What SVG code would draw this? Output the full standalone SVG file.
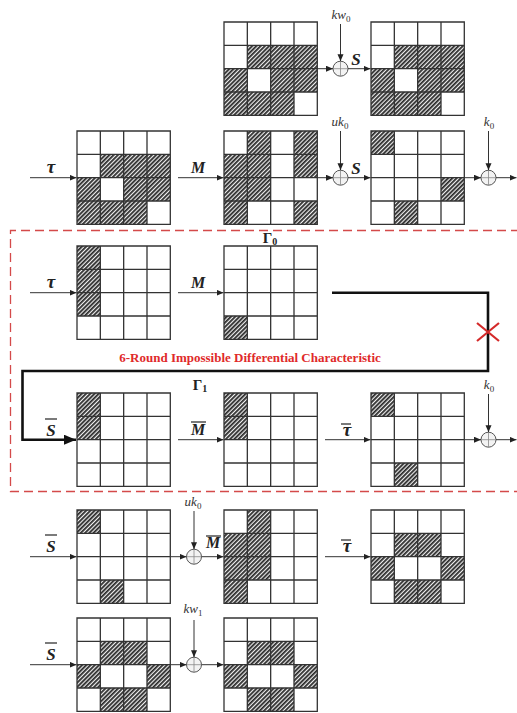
<svg xmlns="http://www.w3.org/2000/svg" xmlns:xlink="http://www.w3.org/1999/xlink" width="517" height="713" viewBox="0 0 517 713">
<style>
.gl{fill:none;stroke:#333;stroke-width:1.3}
.h{fill:url(#hatch)}
.ln{fill:none;stroke:#333;stroke-width:1}
.thick{fill:none;stroke:#111;stroke-width:2.6}
.xor{fill:#f3f3f3;stroke:#555;stroke-width:1}
.xc{stroke:#888;stroke-width:0.8}
.op{font-family:"Liberation Serif",serif;font-weight:bold;font-style:italic;fill:#222;text-anchor:middle}
.key{font-family:"Liberation Serif",serif;font-style:italic;font-size:13px;fill:#333;text-anchor:middle}
.sub{font-style:normal;font-size:9px}
.gam{font-family:"Liberation Serif",serif;font-weight:bold;font-size:15px;fill:#222;text-anchor:middle}
.bar{stroke:#222;stroke-width:1.2}
.red{font-family:"Liberation Serif",serif;font-weight:bold;font-size:13px;fill:#e02a2a;text-anchor:middle}
</style>
<defs>
<pattern id="hatch" patternUnits="userSpaceOnUse" width="3" height="3" patternTransform="rotate(45)">
<rect width="3" height="3" fill="#f0f0f0"/>
<line x1="0.9" y1="0" x2="0.9" y2="3" stroke="#2a2a2a" stroke-width="1.8"/>
</pattern>
<g id="grid"><path class="gl" d="M0,0H93.3V93.3H0Z M23.33,0V93.3 M46.67,0V93.3 M70,0V93.3 M0,23.33H93.3 M0,46.67H93.3 M0,70H93.3"/></g>
<marker id="ar" markerWidth="8" markerHeight="8" refX="7" refY="3" orient="auto" markerUnits="userSpaceOnUse"><path d="M0,0 L7,3 L0,6 Z" fill="#222"/></marker>
<marker id="arb" markerWidth="14" markerHeight="12" refX="12" refY="5" orient="auto" markerUnits="userSpaceOnUse"><path d="M0,0 L12,5 L0,10 Z" fill="#111"/></marker>
<g id="xorsym"><circle class="xor" r="7.5"/><path class="xc" d="M-7.5,0H7.5M0,-7.5V7.5"/></g>
</defs>
<rect width="517" height="713" fill="#fff"/>

<!-- red dashed region -->
<path d="M520,230.5H10.5V491.5H520" fill="none" stroke="#d44a4a" stroke-width="1.3" stroke-dasharray="9,5"/>

<!-- Row 1 -->
<g id="r1a" transform="translate(224,22)">
<rect class="h" x="23.33" y="23.33" width="23.33" height="23.33"/><rect class="h" x="46.67" y="23.33" width="23.33" height="23.33"/><rect class="h" x="70" y="23.33" width="23.33" height="23.33"/>
<rect class="h" x="0" y="46.67" width="23.33" height="23.33"/><rect class="h" x="46.67" y="46.67" width="23.33" height="23.33"/><rect class="h" x="70" y="46.67" width="23.33" height="23.33"/>
<rect class="h" x="0" y="70" width="23.33" height="23.33"/><rect class="h" x="23.33" y="70" width="23.33" height="23.33"/><rect class="h" x="46.67" y="70" width="23.33" height="23.33"/>
<use xlink:href="#grid"/></g>
<g id="r1b" transform="translate(371,22)">
<rect class="h" x="23.33" y="23.33" width="23.33" height="23.33"/><rect class="h" x="46.67" y="23.33" width="23.33" height="23.33"/><rect class="h" x="70" y="23.33" width="23.33" height="23.33"/>
<rect class="h" x="0" y="46.67" width="23.33" height="23.33"/><rect class="h" x="46.67" y="46.67" width="23.33" height="23.33"/><rect class="h" x="70" y="46.67" width="23.33" height="23.33"/>
<rect class="h" x="0" y="70" width="23.33" height="23.33"/><rect class="h" x="23.33" y="70" width="23.33" height="23.33"/><rect class="h" x="46.67" y="70" width="23.33" height="23.33"/>
<use xlink:href="#grid"/></g>

<!-- Row 2 -->
<g id="r2a" transform="translate(77,131)">
<rect class="h" x="23.33" y="23.33" width="23.33" height="23.33"/><rect class="h" x="46.67" y="23.33" width="23.33" height="23.33"/><rect class="h" x="70" y="23.33" width="23.33" height="23.33"/>
<rect class="h" x="0" y="46.67" width="23.33" height="23.33"/><rect class="h" x="46.67" y="46.67" width="23.33" height="23.33"/><rect class="h" x="70" y="46.67" width="23.33" height="23.33"/>
<rect class="h" x="0" y="70" width="23.33" height="23.33"/><rect class="h" x="23.33" y="70" width="23.33" height="23.33"/><rect class="h" x="46.67" y="70" width="23.33" height="23.33"/>
<use xlink:href="#grid"/></g>
<g id="r2b" transform="translate(224,131)">
<rect class="h" x="23.33" y="0" width="23.33" height="23.33"/><rect class="h" x="70" y="0" width="23.33" height="23.33"/>
<rect class="h" x="0" y="23.33" width="23.33" height="23.33"/><rect class="h" x="23.33" y="23.33" width="23.33" height="23.33"/><rect class="h" x="70" y="23.33" width="23.33" height="23.33"/>
<rect class="h" x="0" y="46.67" width="23.33" height="23.33"/><rect class="h" x="23.33" y="46.67" width="23.33" height="23.33"/>
<rect class="h" x="0" y="70" width="23.33" height="23.33"/><rect class="h" x="70" y="70" width="23.33" height="23.33"/>
<use xlink:href="#grid"/></g>
<g id="r2c" transform="translate(371,131)">
<rect class="h" x="0" y="0" width="23.33" height="23.33"/><rect class="h" x="70" y="46.67" width="23.33" height="23.33"/><rect class="h" x="23.33" y="70" width="23.33" height="23.33"/>
<use xlink:href="#grid"/></g>

<!-- Row 3 -->
<g id="r3a" transform="translate(77,246)">
<rect class="h" x="0" y="0" width="23.33" height="23.33"/><rect class="h" x="0" y="23.33" width="23.33" height="23.33"/><rect class="h" x="0" y="46.67" width="23.33" height="23.33"/>
<use xlink:href="#grid"/></g>
<g id="r3b" transform="translate(224,246)">
<rect class="h" x="0" y="70" width="23.33" height="23.33"/>
<use xlink:href="#grid"/></g>

<!-- Row 4 -->
<g id="r4a" transform="translate(77,393)">
<rect class="h" x="0" y="0" width="23.33" height="23.33"/><rect class="h" x="0" y="23.33" width="23.33" height="23.33"/>
<use xlink:href="#grid"/></g>
<g id="r4b" transform="translate(224,393)">
<rect class="h" x="0" y="0" width="23.33" height="23.33"/><rect class="h" x="0" y="23.33" width="23.33" height="23.33"/>
<use xlink:href="#grid"/></g>
<g id="r4c" transform="translate(371,393)">
<rect class="h" x="0" y="0" width="23.33" height="23.33"/><rect class="h" x="23.33" y="70" width="23.33" height="23.33"/>
<use xlink:href="#grid"/></g>

<!-- Row 5 -->
<g id="r5a" transform="translate(77,510)">
<rect class="h" x="0" y="0" width="23.33" height="23.33"/><rect class="h" x="23.33" y="70" width="23.33" height="23.33"/>
<use xlink:href="#grid"/></g>
<g id="r5b" transform="translate(224,510)">
<rect class="h" x="23.33" y="0" width="23.33" height="23.33"/>
<rect class="h" x="0" y="23.33" width="23.33" height="23.33"/><rect class="h" x="23.33" y="23.33" width="23.33" height="23.33"/>
<rect class="h" x="0" y="46.67" width="23.33" height="23.33"/><rect class="h" x="23.33" y="46.67" width="23.33" height="23.33"/>
<rect class="h" x="0" y="70" width="23.33" height="23.33"/>
<use xlink:href="#grid"/></g>
<g id="r5c" transform="translate(371,510)">
<rect class="h" x="23.33" y="23.33" width="23.33" height="23.33"/><rect class="h" x="46.67" y="23.33" width="23.33" height="23.33"/>
<rect class="h" x="0" y="46.67" width="23.33" height="23.33"/><rect class="h" x="70" y="46.67" width="23.33" height="23.33"/>
<rect class="h" x="23.33" y="70" width="23.33" height="23.33"/><rect class="h" x="46.67" y="70" width="23.33" height="23.33"/>
<use xlink:href="#grid"/></g>

<!-- Row 6 -->
<g id="r6a" transform="translate(77,618)">
<rect class="h" x="23.33" y="23.33" width="23.33" height="23.33"/><rect class="h" x="46.67" y="23.33" width="23.33" height="23.33"/>
<rect class="h" x="0" y="46.67" width="23.33" height="23.33"/><rect class="h" x="70" y="46.67" width="23.33" height="23.33"/>
<rect class="h" x="23.33" y="70" width="23.33" height="23.33"/><rect class="h" x="46.67" y="70" width="23.33" height="23.33"/>
<use xlink:href="#grid"/></g>
<g id="r6b" transform="translate(224,618)">
<rect class="h" x="23.33" y="23.33" width="23.33" height="23.33"/><rect class="h" x="46.67" y="23.33" width="23.33" height="23.33"/>
<rect class="h" x="0" y="46.67" width="23.33" height="23.33"/><rect class="h" x="70" y="46.67" width="23.33" height="23.33"/>
<rect class="h" x="23.33" y="70" width="23.33" height="23.33"/><rect class="h" x="46.67" y="70" width="23.33" height="23.33"/>
<use xlink:href="#grid"/></g>

<!-- XOR nodes -->
<g id="xor1"><use xlink:href="#xorsym" x="340.5" y="68.7"/></g>
<g id="xor2"><use xlink:href="#xorsym" x="340.5" y="177.7"/></g>
<g id="xor3"><use xlink:href="#xorsym" x="488.5" y="177.7"/></g>
<g id="xor4"><use xlink:href="#xorsym" x="488.5" y="439.7"/></g>
<g id="xor5"><use xlink:href="#xorsym" x="194" y="556.7"/></g>
<g id="xor6"><use xlink:href="#xorsym" x="194" y="664.7"/></g>

<!-- connectors -->
<g id="connectors">
<line class="ln" x1="317.3" y1="68.7" x2="333" y2="68.7" marker-end="url(#ar)"/>
<line class="ln" x1="348" y1="68.7" x2="370.5" y2="68.7" marker-end="url(#ar)"/>
<line class="ln" x1="340.5" y1="24" x2="340.5" y2="61.2" marker-end="url(#ar)"/>

<line class="ln" x1="30" y1="177.7" x2="76.5" y2="177.7" marker-end="url(#ar)"/>
<line class="ln" x1="178" y1="177.7" x2="223.5" y2="177.7" marker-end="url(#ar)"/>
<line class="ln" x1="317.3" y1="177.7" x2="333" y2="177.7" marker-end="url(#ar)"/>
<line class="ln" x1="348" y1="177.7" x2="370.5" y2="177.7" marker-end="url(#ar)"/>
<line class="ln" x1="340.5" y1="131" x2="340.5" y2="170.2" marker-end="url(#ar)"/>
<line class="ln" x1="464.3" y1="177.7" x2="481" y2="177.7" marker-end="url(#ar)"/>
<line class="ln" x1="488.5" y1="131" x2="488.5" y2="170.2" marker-end="url(#ar)"/>
<line class="ln" x1="496" y1="177.7" x2="516.5" y2="177.7" marker-end="url(#ar)"/>

<line class="ln" x1="30" y1="292.7" x2="76.5" y2="292.7" marker-end="url(#ar)"/>
<line class="ln" x1="178" y1="292.7" x2="223.5" y2="292.7" marker-end="url(#ar)"/>
<path class="thick" d="M332,292.7H488V371H22.5V439.7H76" marker-end="url(#arb)"/>

<line class="ln" x1="178" y1="439.7" x2="223.5" y2="439.7" marker-end="url(#ar)"/>
<line class="ln" x1="325" y1="439.7" x2="370.5" y2="439.7" marker-end="url(#ar)"/>
<line class="ln" x1="464.3" y1="439.7" x2="481" y2="439.7" marker-end="url(#ar)"/>
<line class="ln" x1="488.5" y1="394" x2="488.5" y2="432.2" marker-end="url(#ar)"/>
<line class="ln" x1="496" y1="439.7" x2="516.5" y2="439.7" marker-end="url(#ar)"/>

<line class="ln" x1="30" y1="556.7" x2="76.5" y2="556.7" marker-end="url(#ar)"/>
<line class="ln" x1="170.3" y1="556.7" x2="186.5" y2="556.7" marker-end="url(#ar)"/>
<line class="ln" x1="201.5" y1="556.7" x2="223.5" y2="556.7" marker-end="url(#ar)"/>
<line class="ln" x1="194" y1="511" x2="194" y2="549.2" marker-end="url(#ar)"/>
<line class="ln" x1="325" y1="556.7" x2="370.5" y2="556.7" marker-end="url(#ar)"/>

<line class="ln" x1="30" y1="664.7" x2="76.5" y2="664.7" marker-end="url(#ar)"/>
<line class="ln" x1="170.3" y1="664.7" x2="186.5" y2="664.7" marker-end="url(#ar)"/>
<line class="ln" x1="201.5" y1="664.7" x2="223.5" y2="664.7" marker-end="url(#ar)"/>
<line class="ln" x1="194" y1="620" x2="194" y2="657.2" marker-end="url(#ar)"/>
</g>

<!-- red cross -->
<path d="M477,323L499,341M477,341L499,323" stroke="#d42a2a" stroke-width="2.2" fill="none"/>

<!-- labels -->
<g id="labels">
<text class="key" x="341" y="19">kw<tspan class="sub" dy="3">0</tspan></text>
<text class="op" x="356" y="65" font-size="17">S</text>

<text class="op" x="51" y="173" font-size="19">τ</text>
<text class="op" x="198" y="173" font-size="16">M</text>
<text class="key" x="340" y="126">uk<tspan class="sub" dy="3">0</tspan></text>
<text class="op" x="356" y="174" font-size="17">S</text>
<text class="key" x="489" y="126">k<tspan class="sub" dy="3">0</tspan></text>

<text class="op" x="51" y="288" font-size="19">τ</text>
<text class="op" x="198" y="288" font-size="16">M</text>
<text class="gam" x="270" y="243">Γ<tspan font-size="10" dy="2">0</tspan></text>
<text class="red" x="250" y="362">6-Round Impossible Differential Characteristic</text>

<text class="gam" x="200" y="390">Γ<tspan font-size="10" dy="2">1</tspan></text>
<text class="op" x="51" y="436" font-size="17">S</text><line class="bar" x1="45" y1="419" x2="57" y2="419"/>
<text class="op" x="198" y="435" font-size="16">M</text><line class="bar" x1="191" y1="422" x2="206" y2="422"/>
<text class="op" x="347" y="436" font-size="19">τ</text><line class="bar" x1="341" y1="424" x2="351" y2="424"/>
<text class="key" x="489" y="389">k<tspan class="sub" dy="3">0</tspan></text>

<text class="op" x="51" y="552" font-size="17">S</text><line class="bar" x1="45" y1="535" x2="57" y2="535"/>
<text class="key" x="193" y="506">uk<tspan class="sub" dy="3">0</tspan></text>
<text class="op" x="213" y="548" font-size="16">M</text><line class="bar" x1="206" y1="536" x2="221" y2="536"/>
<text class="op" x="347" y="552" font-size="19">τ</text><line class="bar" x1="341" y1="540" x2="351" y2="540"/>

<text class="op" x="51" y="660" font-size="17">S</text><line class="bar" x1="45" y1="643" x2="57" y2="643"/>
<text class="key" x="193" y="613">kw<tspan class="sub" dy="3">1</tspan></text>
</g>
</svg>
